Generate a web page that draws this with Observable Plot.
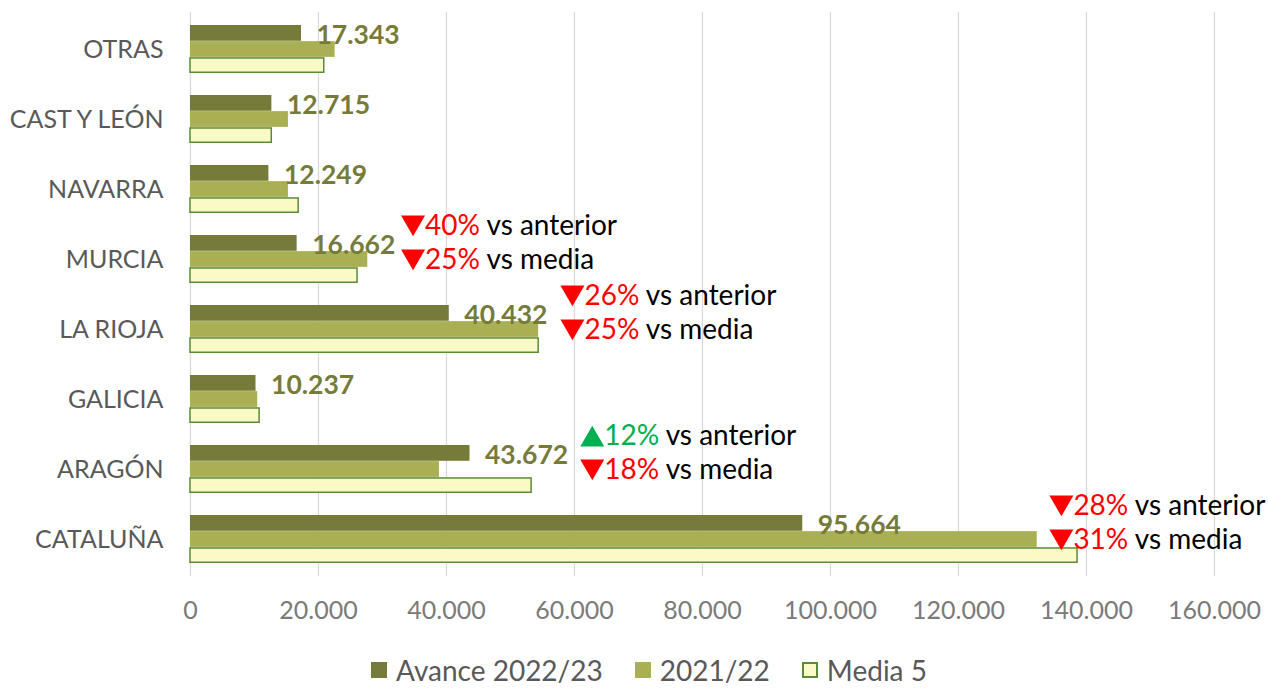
<!DOCTYPE html>
<html>
<head>
<meta charset="utf-8">
<script src="https://cdn.jsdelivr.net/npm/d3@7"></script>
<script src="https://cdn.jsdelivr.net/npm/@observablehq/plot@0.6"></script>
<style>
  body { margin: 0; background: #fff; font-family: Lato, sans-serif; }
  #chart { width: 1268px; }
  [aria-label^="x-axis"] text { fill: #7a7a7a; }
  .legend { display: flex; justify-content: center; align-items: center; margin-top: 14px; padding-left: 30px;
            font-family: Lato, sans-serif; font-size: 28px; line-height: 32px; color: #595959; height: 32px; }
  .legend .item { display: flex; align-items: center; margin: 0 16px; }
  .legend .sw { width: 16px; height: 16px; margin-right: 9px; box-sizing: border-box; }
</style>
</head>
<body>
<div id="chart"></div>
<script>
const categories = ["OTRAS", "CAST Y LEÓN", "NAVARRA", "MURCIA", "LA RIOJA", "GALICIA", "ARAGÓN", "CATALUÑA"];
const seriesNames = ["Avance 2022/23", "2021/22", "Media 5"];
const avance = [17343, 12715, 12249, 16662, 40432, 10237, 43672, 95664];
const prev = [22600, 15300, 15300, 27700, 54400, 10500, 38900, 132300];
const media5 = [20900, 12700, 16900, 26100, 54400, 10800, 53300, 138600];
const xTicks = [0, 20000, 40000, 60000, 80000, 100000, 120000, 140000, 160000];

const annCats = ["MURCIA", "LA RIOJA", "ARAGÓN", "CATALUÑA"];
const annX = [32900, 57800, 60900, 134200];
const vsAnterior = [-40, -26, 12, -28];
const vsMedia = [-25, -25, -18, -31];

const colors = { dark: "#777B3A", mid: "#A9B053", light: "#FAFAC6", lightStroke: "#5B8A38", down: "#FF0000", up: "#00B050" };

const fmt = d3.formatLocale({ decimal: ",", thousands: ".", grouping: [3], currency: ["", "€"] }).format(",d");

const rows = (vals) => categories.map((c, i) => ({ cat: c, value: vals[i] }));
const dAv = rows(avance), dPrev = rows(prev), dMed = rows(media5);

const ann = [];
annCats.forEach((c, i) => {
  ann.push({ cat: c, x: annX[i], line: 0, pct: vsAnterior[i], label: "vs anterior" });
  ann.push({ cat: c, x: annX[i], line: 1, pct: vsMedia[i], label: "vs media" });
});
const annText = d => Math.abs(d.pct) + "%|" + " " + d.label;
const lineDy = [-33, 1];

const H = 640, mT = 12, mB = 64;
const pi = 0.314, po = 0.16;
const step = (H - mT - mB) / (categories.length - pi + 2 * po);
const bw = step * (1 - pi);
const h = bw / 3;

const annMarks = [];
[0, 1].forEach(line => {
  const sub = ann.filter(d => d.line === line);
  const down = sub.filter(d => d.pct < 0), up = sub.filter(d => d.pct >= 0);
  annMarks.push(Plot.dot(down, { x: "x", y: "cat", symbol: "triangle", rotate: 180, r: 8.9, dx: 12, dy: lineDy[line] - 4,
    fill: colors.down, stroke: null }));
  annMarks.push(Plot.dot(up, { x: "x", y: "cat", symbol: "triangle", r: 8.9, dx: 12, dy: lineDy[line] + 3,
    fill: colors.up, stroke: null }));
  annMarks.push(Plot.text(sub, { x: "x", y: "cat", text: annText, dx: 24, dy: lineDy[line], textAnchor: "start",
    fill: d => d.pct < 0 ? colors.down : colors.up, fontSize: 28 }));
});

const plot = Plot.plot({
  width: 1268, height: H,
  marginLeft: 190, marginRight: 54, marginTop: mT, marginBottom: mB,
  style: { fontFamily: "Lato, sans-serif", fontSize: "25px", color: "#595959", background: "white" },
  x: { domain: [0, 160000], ticks: xTicks, tickFormat: fmt, tickSize: 0, tickPadding: 25, label: null },
  y: { domain: categories, paddingInner: pi, paddingOuter: po, tickSize: 0, tickPadding: 27, label: null },
  marks: [
    Plot.ruleX(xTicks, { stroke: "#d9d9d9", strokeWidth: 1.3 }),
    Plot.barX(dAv, { x: "value", y: "cat", fill: colors.dark, insetTop: 0, insetBottom: 2 * h }),
    Plot.barX(dPrev, { x: "value", y: "cat", fill: colors.mid, insetTop: h, insetBottom: h }),
    Plot.barX(dMed, { x: "value", y: "cat", fill: colors.light, stroke: colors.lightStroke, strokeWidth: 1.5, insetTop: 2 * h + 0.75, insetBottom: 0.75 }),
    Plot.text(dAv, { x: "value", y: "cat", text: d => fmt(d.value), dx: 15, dy: -14, textAnchor: "start",
      fill: colors.dark, fontWeight: "bold", fontSize: 26.5 }),
    ...annMarks
  ]
});

d3.select(plot).selectAll("text").each(function () {
  const t = d3.select(this);
  const s = t.text();
  if (!s.includes("|")) return;
  const parts = s.split("|");
  t.text(null);
  t.append("tspan").text(parts[0]);
  t.append("tspan").attr("fill", "#000").text(parts[1]);
});

document.getElementById("chart").appendChild(plot);

const legend = d3.select("#chart").append("div").attr("class", "legend");
const sw = [
  { bg: colors.dark, border: "none" },
  { bg: colors.mid, border: "none" },
  { bg: colors.light, border: "2px solid " + colors.lightStroke }
];
seriesNames.forEach((n, i) => {
  const it = legend.append("div").attr("class", "item");
  it.append("div").attr("class", "sw").style("background", sw[i].bg).style("border", sw[i].border);
  it.append("span").text(n);
});
</script>
</body>
</html>
